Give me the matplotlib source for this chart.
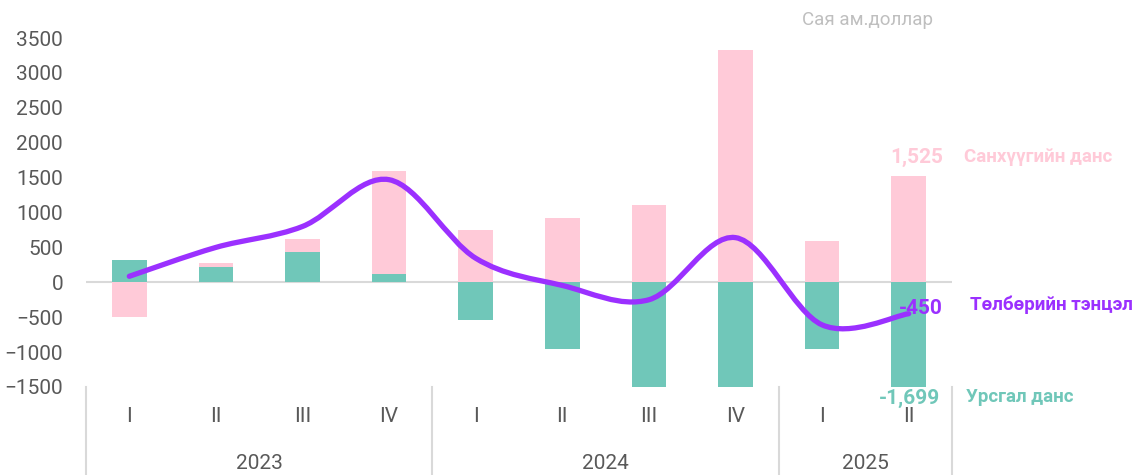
import numpy as np
import matplotlib
matplotlib.use("Agg")
import matplotlib.pyplot as plt
from matplotlib.path import Path
from matplotlib.patches import PathPatch
import matplotlib.transforms as mtransforms

plt.rcParams['font.family'] = ['Roboto', 'DejaVu Sans']

# data (сая ам.доллар)
years = ['2023', '2024', '2025']
quarters = ['I', 'II', 'III', 'IV', 'I', 'II', 'III', 'IV', 'I', 'II']
year_sizes = [4, 4, 2]
sankhuu = [-500, 283, 617, 1597, 756, 923, 1105, 3329, 598, 1525]      # Санхүүгийн данс
ursgal = [316, 220, 430, 120, -535, -952, -1560, -1540, -955, -1699]  # Урсгал данс
tentsel = [86, 500, 800, 1470, 345, -45, -250, 640, -610, -450]       # Төлбөрийн тэнцэл

pink = '#ffcad8'
teal = '#70c7b9'
purple = '#9b30ff'
gray = '#595959'
sep = '#d9d9d9'

fig = plt.figure(figsize=(11.34, 4.75), dpi=100)
ax = fig.add_axes([86/1134, 1-387/475, 866/1134, 349/475])

x = np.arange(len(quarters))
ax.bar(x, sankhuu, width=0.4, color=pink, zorder=2)
ax.bar(x, ursgal, width=0.4, color=teal, zorder=3)
ax.axhline(0, color=sep, lw=1.5, zorder=1)

# smoothed line (Bezier segments through the points)
y = np.array(tentsel, dtype=float)
xs = x.astype(float)
verts = [(xs[0], y[0])]
codes = [Path.MOVETO]
n = len(xs)
for i in range(n-1):
    p0 = np.array([xs[max(i-1, 0)], y[max(i-1, 0)]])
    p1 = np.array([xs[i], y[i]])
    p2 = np.array([xs[i+1], y[i+1]])
    p3 = np.array([xs[min(i+2, n-1)], y[min(i+2, n-1)]])
    c1 = p1 + (p2 - p0) / 6
    c2 = p2 - (p3 - p1) / 6
    verts += [tuple(c1), tuple(c2), tuple(p2)]
    codes += [Path.CURVE4] * 3
ax.add_patch(PathPatch(Path(verts, codes), fill=False, edgecolor=purple,
                       lw=3.8, capstyle='round', zorder=4))

ax.set_xlim(-0.5, len(quarters)-0.5)
ax.set_ylim(-1500, 3500)
ax.set_yticks(np.arange(-1500, 3501, 500))
ax.set_xticks([])
ax.tick_params(axis='y', length=0, pad=16.5, labelsize=15, labelcolor=gray)
for s in ax.spines.values():
    s.set_visible(False)

# category axis (quarters and years)
tr = mtransforms.blended_transform_factory(ax.transData, ax.transAxes)
for i, q in enumerate(quarters):
    ax.text(i, -0.085, q, transform=tr, ha='center', va='center',
            fontsize=15, color=gray)
start = 0
bounds = [-0.5]
for yr, sz in zip(years, year_sizes):
    ax.text(start + (sz-1)/2, -0.22, yr, transform=tr, ha='center', va='center',
            fontsize=15, color=gray)
    start += sz
    bounds.append(start - 0.5)
for b in bounds:
    ax.plot([b, b], [0, -0.26], transform=tr, color=sep, lw=1.5, clip_on=False)

# end labels
ax.text(917/1134, 1-157/475, '1,525', transform=fig.transFigure, ha='center',
        va='center', fontsize=15, fontweight='bold', color=pink)
ax.text(964/1134, 1-157/475, 'Санхүүгийн данс', transform=fig.transFigure,
        ha='left', va='center', fontsize=13.5, fontweight='bold', color=pink)
ax.text(943/1134, 1-308/475, '-450', transform=fig.transFigure, ha='right',
        va='center', fontsize=15, fontweight='bold', color=purple)
ax.text(970/1134, 1-305/475, 'Төлбөрийн тэнцэл', transform=fig.transFigure,
        ha='left', va='center', fontsize=13.5, fontweight='bold', color=purple)
ax.text(940/1134, 1-398/475, '-1,699', transform=fig.transFigure, ha='right',
        va='center', fontsize=15, fontweight='bold', color=teal)
ax.text(966/1134, 1-397/475, 'Урсгал данс', transform=fig.transFigure,
        ha='left', va='center', fontsize=13.5, fontweight='bold', color=teal)
ax.text(802/1134, 1-20/475, 'Сая ам.доллар', transform=fig.transFigure,
        ha='left', va='center', fontsize=13.5, color='#bfbfbf')

fig.savefig('out.png', dpi=100)
